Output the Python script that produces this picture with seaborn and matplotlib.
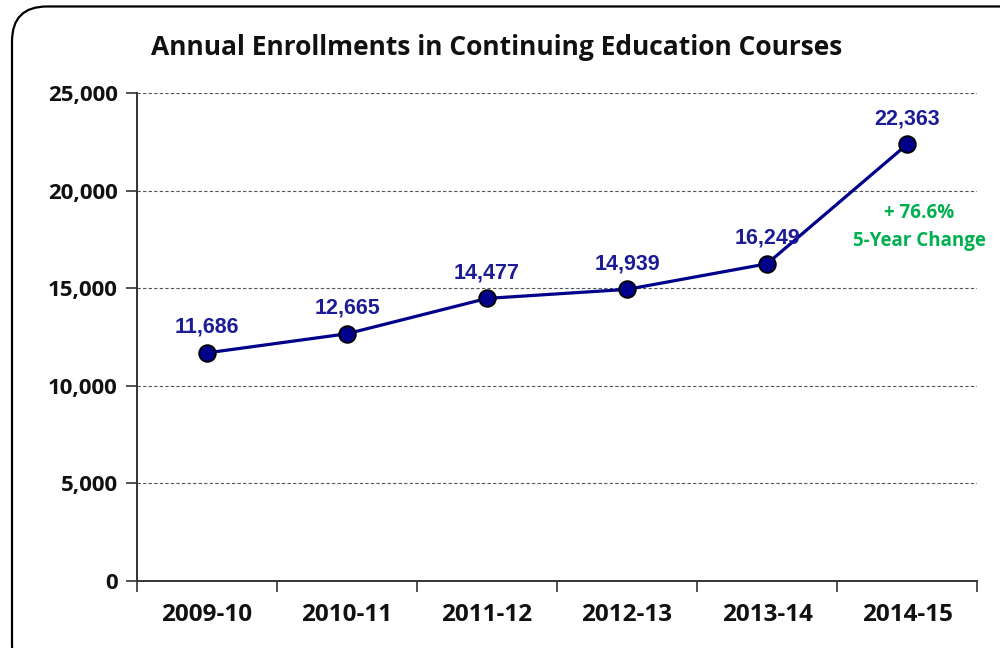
import numpy as np
import pandas as pd
import matplotlib
matplotlib.use("Agg")
import matplotlib.pyplot as plt
import seaborn as sns
from matplotlib.patches import FancyBboxPatch
from matplotlib.ticker import FuncFormatter, FixedLocator

# Chart data
seasons = ["2009-10", "2010-11", "2011-12", "2012-13", "2013-14", "2014-15"]
enrollments = [11686, 12665, 14477, 14939, 16249, 22363]
change_note = "+ 76.6%\n5-Year Change"
title = "Annual Enrollments in Continuing Education Courses"

navy = "#00008B"
label_blue = "#1C1C94"
green = "#00B050"

sns.set_theme(style="white")
plt.rcParams["font.family"] = ["Open Sans", "DejaVu Sans"]
plt.rcParams["font.weight"] = "bold"

df = pd.DataFrame({"season": seasons, "enrollments": enrollments})
df["pos"] = np.arange(len(df)) + 0.5

fig = plt.figure(figsize=(10, 6.48), dpi=100)
ax = fig.add_axes([0.137, 0.1034, 0.84, 0.7531])

# rounded chart border, running off the right and bottom edges
border = FancyBboxPatch((0.012, -0.05), 1.2, 1.04, boxstyle="round,pad=0,rounding_size=0.035",
                        transform=fig.transFigure, fill=False, edgecolor="black",
                        linewidth=1.6, mutation_aspect=1.54, zorder=0)
fig.patches.append(border)

sns.lineplot(data=df, x="pos", y="enrollments", ax=ax, color=navy, linewidth=2.3,
             marker="o", markersize=12, markerfacecolor=navy, markeredgecolor="black",
             markeredgewidth=1.3, zorder=3)

for _, row in df.iterrows():
    ax.annotate(f"{row['enrollments']:,}", (row["pos"], row["enrollments"]),
                xytext=(0, 11), textcoords="offset points", ha="center", va="bottom",
                fontsize=15.5, fontweight="bold", color=label_blue, family="Liberation Sans")

ax.text(5.586, 18150, change_note, ha="center", va="center", fontsize=13.5,
        fontweight="bold", color=green, linespacing=1.55)

ax.set_xlim(0, 6)
ax.set_ylim(0, 25000)
ax.set_yticks(np.arange(0, 25001, 5000))
ax.yaxis.set_major_formatter(FuncFormatter(lambda v, p: f"{int(v):,}"))
ax.set_xticks(df["pos"])
ax.set_xticklabels(seasons)
ax.xaxis.set_minor_locator(FixedLocator(np.arange(0, 7)))
ax.tick_params(axis="x", which="major", length=0, pad=16, labelsize=17.5, labelcolor="#111111")
ax.tick_params(axis="x", which="minor", length=8, width=1.2, color="#333333", direction="out", bottom=True)
ax.tick_params(axis="y", length=8, width=1.2, color="#333333", direction="out", left=True, pad=6,
               labelsize=16, labelcolor="#111111")

ax.grid(axis="y", linestyle=(0, (3, 2)), color="#555555", linewidth=0.8)
ax.grid(axis="x", visible=False)
for side in ["top", "right"]:
    ax.spines[side].set_visible(False)
for side in ["left", "bottom"]:
    ax.spines[side].set_color("#333333")
    ax.spines[side].set_linewidth(1.4)
ax.set_xlabel("")
ax.set_ylabel("")
ax.set_facecolor("none")

fig.text(0.497, 0.927, title, ha="center", va="center", fontsize=19, fontweight="bold", color="#111111")

fig.savefig("out.png", dpi=100, facecolor="white")
